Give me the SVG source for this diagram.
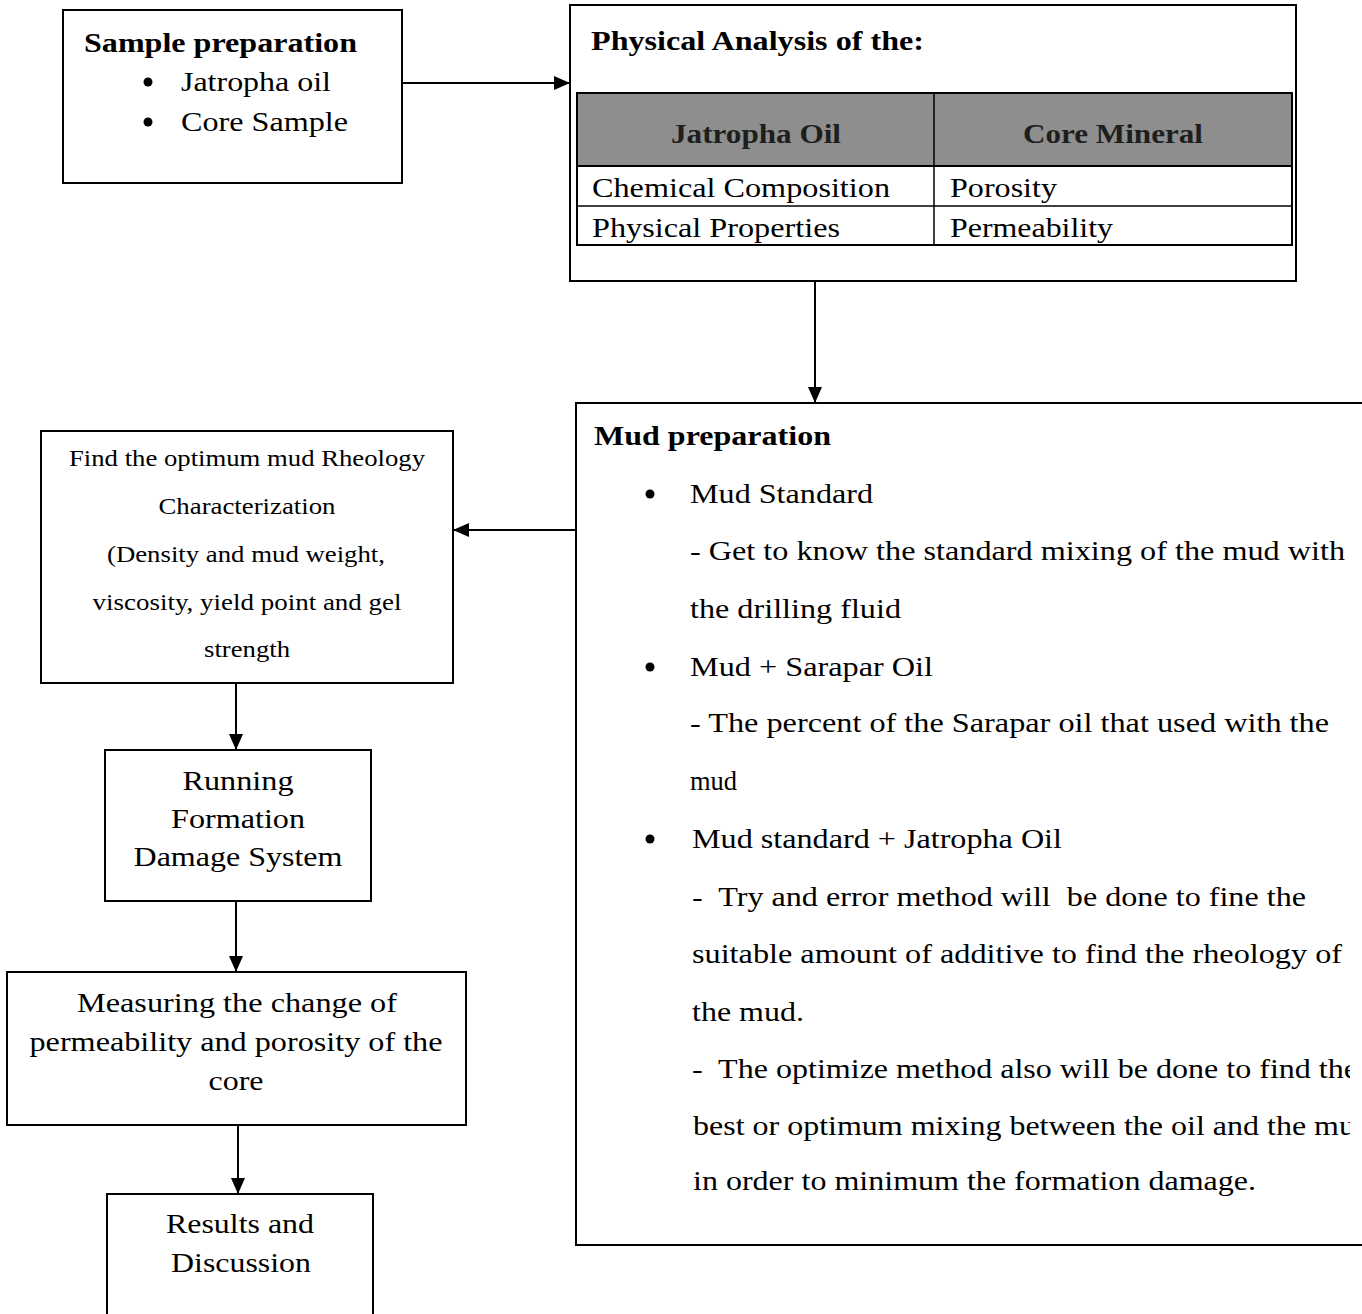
<svg xmlns="http://www.w3.org/2000/svg" width="1362" height="1314" viewBox="0 0 1362 1314">
<style>
.box{fill:#fff;stroke:#000;stroke-width:2}
.open{fill:none;stroke:#000;stroke-width:2}
.t{font-family:"Liberation Serif","Times New Roman",serif;font-size:28px;fill:#000}
.b{font-weight:bold}
.s{font-size:23px}
.m{text-anchor:middle}
.hd{font-family:"Liberation Serif","Times New Roman",serif;font-size:28px;font-weight:bold;fill:#1e1e1e;text-anchor:middle}
.c{stroke:#000;stroke-width:2;fill:none;marker-end:url(#ah)}
</style>
<defs>
<marker id="ah" viewBox="0 0 16 14" refX="16" refY="7" markerWidth="16" markerHeight="14" markerUnits="userSpaceOnUse" orient="auto">
<path d="M0,0 L16,7 L0,14 z" fill="#000"/>
</marker>
<clipPath id="clipR"><rect x="0" y="0" width="1350" height="1314"/></clipPath>
</defs>
<rect width="1362" height="1314" fill="#fff"/>

<g id="connectors">
<line class="c" x1="402" y1="83" x2="570" y2="83"/>
<line class="c" x1="815" y1="281" x2="815" y2="403"/>
<line class="c" x1="576" y1="530" x2="453" y2="530"/>
<line class="c" x1="236" y1="683" x2="236" y2="750"/>
<line class="c" x1="236" y1="901" x2="236" y2="972"/>
<line class="c" x1="238" y1="1125" x2="238" y2="1194"/>
</g>

<g id="sample-preparation">
<rect class="box" x="63" y="10" width="339" height="173"/>
<text class="t b" x="84" y="52" textLength="273" lengthAdjust="spacingAndGlyphs">Sample preparation</text>
<circle cx="148" cy="82" r="4.5" fill="#000"/>
<text class="t" x="181" y="91" textLength="150" lengthAdjust="spacingAndGlyphs">Jatropha oil</text>
<circle cx="148" cy="122" r="4.5" fill="#000"/>
<text class="t" x="181" y="131" textLength="167" lengthAdjust="spacingAndGlyphs">Core Sample</text>
</g>

<g id="physical-analysis">
<rect class="box" x="570" y="5" width="726" height="276"/>
<text class="t b" x="591" y="50" textLength="333" lengthAdjust="spacingAndGlyphs">Physical Analysis of the:</text>
<rect x="577" y="93" width="715" height="73" fill="#8e8e8e" stroke="#000" stroke-width="2"/>
<rect x="577" y="166" width="715" height="79" fill="none" stroke="#000" stroke-width="2"/>
<line x1="577" y1="206" x2="1292" y2="206" stroke="#000" stroke-width="1.5"/>
<line x1="934" y1="93" x2="934" y2="245" stroke="#000" stroke-width="1.5"/>
<text class="hd" x="756" y="143" textLength="170" lengthAdjust="spacingAndGlyphs">Jatropha Oil</text>
<text class="hd" x="1113" y="143" textLength="180" lengthAdjust="spacingAndGlyphs">Core Mineral</text>
<text class="t" x="592" y="197" textLength="298" lengthAdjust="spacingAndGlyphs">Chemical Composition</text>
<text class="t" x="950" y="197" textLength="107" lengthAdjust="spacingAndGlyphs">Porosity</text>
<text class="t" x="592" y="237" textLength="248" lengthAdjust="spacingAndGlyphs">Physical Properties</text>
<text class="t" x="950" y="237" textLength="163" lengthAdjust="spacingAndGlyphs">Permeability</text>
</g>

<g id="mud-preparation">
<path class="open" d="M1362,403 H576 V1245 H1362"/>
<text class="t b" x="594" y="445" textLength="237" lengthAdjust="spacingAndGlyphs">Mud preparation</text>
<circle cx="650" cy="494" r="4.5" fill="#000"/>
<text class="t" x="690" y="503" textLength="183" lengthAdjust="spacingAndGlyphs">Mud Standard</text>
<text class="t" x="690" y="560" textLength="655" lengthAdjust="spacingAndGlyphs">- Get to know the standard mixing of the mud with</text>
<text class="t" x="690" y="618" textLength="211" lengthAdjust="spacingAndGlyphs">the drilling fluid</text>
<circle cx="650" cy="667" r="4.5" fill="#000"/>
<text class="t" x="690" y="676" textLength="243" lengthAdjust="spacingAndGlyphs">Mud + Sarapar Oil</text>
<text class="t" x="690" y="732" textLength="639" lengthAdjust="spacingAndGlyphs">- The percent of the Sarapar oil that used with the</text>
<text class="t" x="690" y="790" textLength="47" lengthAdjust="spacingAndGlyphs">mud</text>
<circle cx="650" cy="839" r="4.5" fill="#000"/>
<text class="t" x="692" y="848" textLength="370" lengthAdjust="spacingAndGlyphs">Mud standard + Jatropha Oil</text>
<text class="t" x="692" y="906" textLength="614" lengthAdjust="spacingAndGlyphs" xml:space="preserve">-  Try and error method will  be done to fine the</text>
<text class="t" x="692" y="963" textLength="650" lengthAdjust="spacingAndGlyphs">suitable amount of additive to find the rheology of</text>
<text class="t" x="692" y="1021" textLength="112" lengthAdjust="spacingAndGlyphs">the mud.</text>
<g clip-path="url(#clipR)">
<text class="t" x="692" y="1078" textLength="666" lengthAdjust="spacingAndGlyphs" xml:space="preserve">-  The optimize method also will be done to find the</text>
<text class="t" x="693" y="1135" textLength="678" lengthAdjust="spacingAndGlyphs">best or optimum mixing between the oil and the mud</text>
</g>
<text class="t" x="693" y="1190" textLength="563" lengthAdjust="spacingAndGlyphs">in order to minimum the formation damage.</text>
</g>

<g id="optimum-rheology">
<rect class="box" x="41" y="431" width="412" height="252"/>
<text class="t s m" x="247" y="466" textLength="356" lengthAdjust="spacingAndGlyphs">Find the optimum mud Rheology</text>
<text class="t s m" x="247" y="514" textLength="177" lengthAdjust="spacingAndGlyphs">Characterization</text>
<text class="t s m" x="246" y="562" textLength="278" lengthAdjust="spacingAndGlyphs">(Density and mud weight,</text>
<text class="t s m" x="247" y="610" textLength="309" lengthAdjust="spacingAndGlyphs">viscosity, yield point and gel</text>
<text class="t s m" x="247" y="657" textLength="86" lengthAdjust="spacingAndGlyphs">strength</text>
</g>

<g id="running-formation-damage">
<rect class="box" x="105" y="750" width="266" height="151"/>
<text class="t m" x="238" y="790" textLength="111" lengthAdjust="spacingAndGlyphs">Running</text>
<text class="t m" x="238" y="828" textLength="134" lengthAdjust="spacingAndGlyphs">Formation</text>
<text class="t m" x="238" y="866" textLength="209" lengthAdjust="spacingAndGlyphs">Damage System</text>
</g>

<g id="measuring-change">
<rect class="box" x="7" y="972" width="459" height="153"/>
<text class="t m" x="237" y="1012" textLength="320" lengthAdjust="spacingAndGlyphs">Measuring the change of</text>
<text class="t m" x="236" y="1051" textLength="413" lengthAdjust="spacingAndGlyphs">permeability and porosity of the</text>
<text class="t m" x="236" y="1090" textLength="55" lengthAdjust="spacingAndGlyphs">core</text>
</g>

<g id="results-discussion">
<path class="open" d="M107,1314 V1194 H373 V1314" fill="#fff"/>
<text class="t m" x="240" y="1233" textLength="148" lengthAdjust="spacingAndGlyphs">Results and</text>
<text class="t m" x="241" y="1272" textLength="140" lengthAdjust="spacingAndGlyphs">Discussion</text>
</g>
</svg>
